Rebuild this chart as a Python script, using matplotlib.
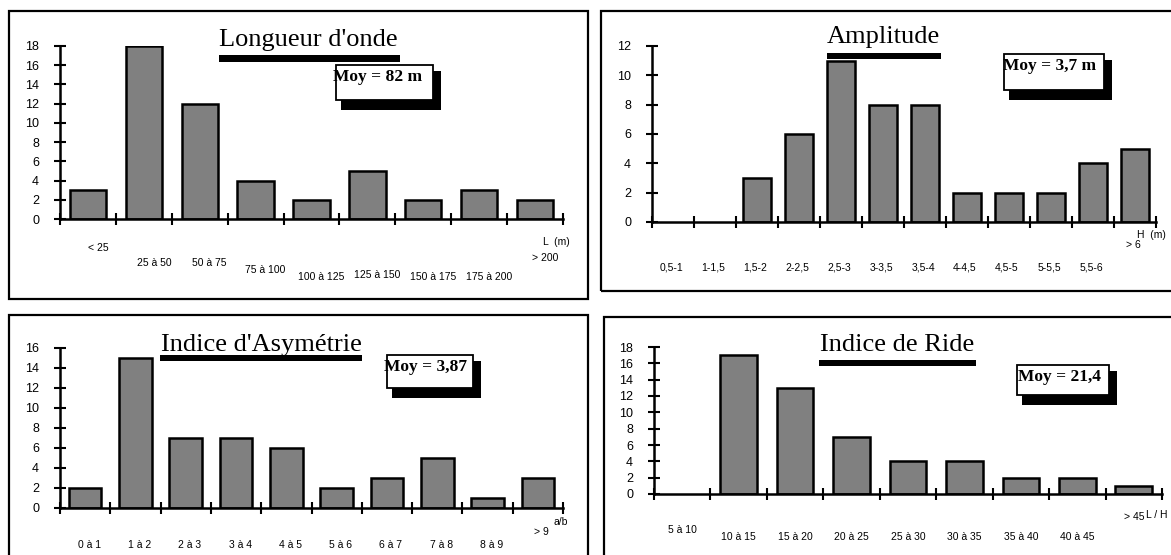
import matplotlib
matplotlib.use('Agg')
import matplotlib.pyplot as plt
from matplotlib.patches import Rectangle

W, H = 1171, 555

# data
longueur_labels = ['< 25', '25 à 50', '50 à 75', '75 à 100', '100 à 125',
                   '125 à 150', '150 à 175', '175 à 200', '> 200']
longueur_counts = [3, 18, 12, 4, 2, 5, 2, 3, 2]

amplitude_labels = ['0,5-1', '1-1,5', '1,5-2', '2-2,5', '2,5-3', '3-3,5',
                    '3,5-4', '4-4,5', '4,5-5', '5-5,5', '5,5-6', '> 6']
amplitude_counts = [0, 0, 3, 6, 11, 8, 8, 2, 2, 2, 4, 5]

asym_labels = ['0 à 1', '1 à 2', '2 à 3', '3 à 4', '4 à 5', '5 à 6',
               '6 à 7', '7 à 8', '8 à 9', '> 9']
asym_counts = [2, 15, 7, 7, 6, 2, 3, 5, 1, 3]

ride_labels = ['5 à 10', '10 à 15', '15 à 20', '20 à 25', '25 à 30',
               '30 à 35', '35 à 40', '40 à 45', '> 45']
ride_counts = [0, 17, 13, 7, 4, 4, 2, 2, 1]

titles = ["Longueur d'onde", 'Amplitude', "Indice d'Asymétrie", 'Indice de Ride']
means = ['Moy = 82 m', 'Moy = 3,7 m', 'Moy = 3,87', 'Moy = 21,4']
axis_names = ['L  (m)', 'H  (m)', 'a/b', 'L / H']
ymaxes = [18, 12, 16, 18]

# layout in pixels of the original picture
panels = [
    dict(ax=(60, 46, 563, 219), frame=(9, 11, 588, 299), title=(308, 46),
         line=(219, 55, 400, 62), box=(336, 65, 433, 100), moy_x=333,
         name=(543, 242), drop=[29, 44, 44, 51, 58, 56, 58, 58, 39], dx=10),
    dict(ax=(652, 46, 1156, 222), frame=(601, 11, 1180, 291), title=(883, 43),
         line=(827, 53, 941, 59), box=(1004, 54, 1104, 90), moy_x=1003,
         name=(1137, 235), drop=[45] * 11 + [23], dx=-2),
    dict(ax=(60, 348, 563, 508), frame=(9, 315, 588, 565), title=(261, 351),
         line=(160, 355, 362, 361), box=(387, 355, 473, 388), moy_x=384,
         name=(553, 522), drop=[37] * 9 + [24], dx=4),
    dict(ax=(654, 347, 1162, 494), frame=(604, 317, 1180, 565), title=(897, 351),
         line=(819, 360, 976, 366), box=(1017, 365, 1109, 395), moy_x=1018,
         name=(1146, 515), drop=[36] + [43] * 7 + [23], dx=0),
]
counts = [longueur_counts, amplitude_counts, asym_counts, ride_counts]
labels = [longueur_labels, amplitude_labels, asym_labels, ride_labels]

SERIF = 'Liberation Serif'
SANS = 'Liberation Sans'


def fbox(l, t, r, b):
    return (l / W, 1 - b / H, (r - l) / W, (b - t) / H)


def fxy(x, y):
    return (x / W, 1 - y / H)


fig = plt.figure(figsize=(W / 100, H / 100), dpi=100)
fig.patch.set_facecolor('white')

for p, vals, labs, title, moy, name, ymax in zip(panels, counts, labels, titles,
                                                 means, axis_names, ymaxes):
    l, t, r, b = p['ax']
    ax = fig.add_axes(fbox(l, t, r, b))
    ax.set_facecolor('none')
    n = len(vals)
    # empty classes get no outline
    ax.bar([i + 0.5 for i in range(n)], vals, width=0.65, color='#808080',
           edgecolor='black', linewidth=[1.8 if v > 0 else 0 for v in vals],
           zorder=2)
    ax.set_xlim(0, n)
    ax.set_ylim(0, ymax)
    ax.set_xticks(range(n + 1))
    ax.set_xticklabels([])
    ax.set_yticks(range(0, ymax + 1, 2))
    ax.set_yticklabels([str(v) for v in range(0, ymax + 1, 2)],
                       family=SANS, fontsize=9)
    ax.tick_params(axis='both', direction='inout', length=8, width=1.5)
    ax.tick_params(axis='y', pad=11)
    for s in ['top', 'right']:
        ax.spines[s].set_visible(False)
    for s in ['left', 'bottom']:
        ax.spines[s].set_linewidth(1.8)
        ax.spines[s].set_zorder(3)

    hpx = b - t
    for i, lab in enumerate(labs):
        ax.text(i + 0.5 + p['dx'] * n / (r - l), -p['drop'][i] / hpx, lab,
                transform=ax.get_xaxis_transform(), ha='center', va='center',
                family=SANS, fontsize=7.5)

    # frame around the panel
    fig.add_artist(Rectangle(fxy(p['frame'][0], p['frame'][3]),
                             (p['frame'][2] - p['frame'][0]) / W,
                             (p['frame'][3] - p['frame'][1]) / H,
                             transform=fig.transFigure, fill=False,
                             edgecolor='black', linewidth=1.6, zorder=1))

    # title and its underline
    fig.text(*fxy(*p['title']), title, ha='center', va='baseline',
             family=SERIF, fontsize=19, zorder=5)
    x0, y0, w0, h0 = fbox(*p['line'])
    fig.add_artist(Rectangle((x0, y0), w0, h0, transform=fig.transFigure,
                             facecolor='black', edgecolor='none', zorder=5))

    # mean box with its drop shadow
    bl, bt, br, bb = p['box']
    x0, y0, w0, h0 = fbox(bl + 5, bt + 6, br + 8, bb + 10)
    fig.add_artist(Rectangle((x0, y0), w0, h0, transform=fig.transFigure,
                             facecolor='black', edgecolor='none', zorder=5))
    x0, y0, w0, h0 = fbox(bl, bt, br, bb)
    fig.add_artist(Rectangle((x0, y0), w0, h0, transform=fig.transFigure,
                             facecolor='white', edgecolor='black',
                             linewidth=1.3, zorder=6))
    fig.text(*fxy(p['moy_x'], bt + 12), moy, ha='left', va='center',
             family=SERIF, fontweight='bold', fontsize=12.5, zorder=7)

    # axis name at the end of the x axis
    fig.text(*fxy(*p['name']), name, ha='left', va='center',
             family=SANS, fontsize=7.5, zorder=5)

fig.savefig('out.png', dpi=100)
